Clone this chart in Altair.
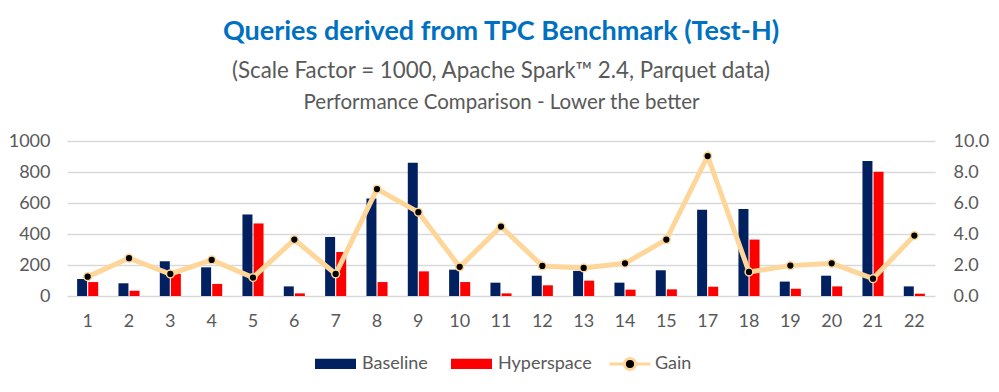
import altair as alt
import pandas as pd

queries = ["1", "2", "3", "4", "5", "6", "7", "8", "9", "10", "11", "12", "13",
           "14", "15", "17", "18", "19", "20", "21", "22"]
baseline = [110, 82, 224, 185, 526, 62, 381, 629, 860, 170, 86, 131, 162,
            86, 166, 556, 562, 93, 131, 871, 62]
hyperspace = [90, 34, 142, 78, 468, 17, 284, 90, 159, 90, 17, 69, 99,
              41, 43, 60, 364, 47, 62, 802, 15]
gain = [1.25, 2.44, 1.42, 2.33, 1.19, 3.64, 1.42, 6.90, 5.41, 1.88, 4.48, 1.94, 1.81,
        2.11, 3.64, 9.03, 1.55, 1.96, 2.11, 1.12, 3.90]
bar_series = ["Baseline", "Hyperspace"]
bar_colors = ["#002060", "#FF0000"]
gain_series = ["Gain"]
gain_line_color = "#FFD699"
gain_dot_color = "black"
left_ticks = [0, 200, 400, 600, 800, 1000]
right_ticks = [0, 2, 4, 6, 8, 10]

TITLE = "Queries derived from TPC Benchmark (Test-H)"
SUBTITLE = "(Scale Factor = 1000, Apache Spark\u2122 2.4, Parquet data)"
NOTE = "Performance Comparison - Lower the better"

n = len(queries)
bars_df = pd.DataFrame({
    "query": queries * 2,
    "series": ["Baseline"] * n + ["Hyperspace"] * n,
    "time": baseline + hyperspace,
})
gain_df = pd.DataFrame({"query": queries, "series": ["Gain"] * n, "gain": gain})

FONT = "Lato"
GRAY = "#595959"

bar_legend = alt.Legend(
    orient="none", legendX=247, legendY=201, direction="horizontal", title=None,
    labelFont=FONT, labelFontSize=18, labelColor=GRAY,
    symbolType="M-1,-0.25H1V0.25H-1Z", symbolSize=1681,
    labelOffset=5, columnPadding=22,
)
gain_legend = alt.Legend(
    orient="none", legendX=541, legendY=201, direction="horizontal", title=None,
    labelFont=FONT, labelFontSize=18, labelColor=GRAY,
    symbolType="M-1,0H-0.27M0.27,0H1M0.27,0A0.27,0.27,0,1,1,-0.27,0A0.27,0.27,0,1,1,0.27,0Z",
    symbolSize=1681, symbolStrokeWidth=3, labelOffset=3,
)

x_scale = alt.Scale(paddingInner=0.49, paddingOuter=0.245)
x_bottom = alt.X(
    "query:N", sort=queries, scale=x_scale,
    axis=alt.Axis(title=None, labelAngle=0, ticks=False, domain=False, grid=False,
                  labelPadding=16, labelFont=FONT, labelFontSize=18, labelColor=GRAY),
)
x_top = alt.X(
    "query:N", sort=queries, scale=x_scale,
    axis=alt.Axis(orient="top", title=NOTE, labels=False, ticks=False, domain=False,
                  grid=False, titlePadding=29, titleFont=FONT, titleFontSize=20.5,
                  titleFontWeight="normal", titleColor=GRAY),
)

bars = alt.Chart(bars_df).mark_bar().encode(
    x=x_bottom,
    xOffset=alt.XOffset("series:N", sort=bar_series, scale=alt.Scale(paddingInner=0.1)),
    y=alt.Y("time:Q", scale=alt.Scale(domain=[0, 1000], nice=False),
            axis=alt.Axis(title=None, values=left_ticks, format="d", grid=True,
                          gridColor="#D9D9D9", gridWidth=1.3, domain=False, ticks=False,
                          labelPadding=17, labelFont=FONT, labelFontSize=18, labelColor=GRAY)),
    color=alt.Color("series:N", scale=alt.Scale(domain=bar_series, range=bar_colors),
                    legend=bar_legend),
)

right_y = alt.Y("gain:Q", scale=alt.Scale(domain=[0, 10], nice=False),
                axis=alt.Axis(title=None, orient="right", values=right_ticks, format=".1f",
                              grid=False, domain=False, ticks=False, labelPadding=18,
                              labelFont=FONT, labelFontSize=18, labelColor=GRAY))

line = alt.Chart(gain_df).mark_line(strokeWidth=5).encode(
    x=x_top, y=right_y,
    stroke=alt.Stroke("series:N", scale=alt.Scale(domain=gain_series, range=[gain_line_color]),
                      legend=gain_legend),
)
points = alt.Chart(gain_df).mark_circle(size=60, opacity=1, stroke=gain_line_color,
                                        strokeWidth=1.5).encode(
    x=x_top, y=right_y,
    fill=alt.Fill("series:N", scale=alt.Scale(domain=gain_series, range=[gain_dot_color]),
                  legend=gain_legend),
)

chart = alt.layer(bars, alt.layer(line, points)).resolve_scale(
    y="independent"
).resolve_axis(x="independent").properties(
    width=868, height=155,
    autosize=alt.AutoSizeParams(type="none"),
    padding={"left": 59, "top": 133, "right": 56, "bottom": 88},
    title=alt.Title(
        text=TITLE, subtitle=SUBTITLE,
        anchor="middle", font=FONT, fontSize=27, fontWeight="bold", color="#0070C0",
        subtitleFont=FONT, subtitleFontSize=22.3, subtitleColor=GRAY,
        subtitlePadding=14, offset=9,
    ),
).configure_view(stroke=None)

chart.save("out.html", embed_options={"renderer": "svg", "actions": False})
